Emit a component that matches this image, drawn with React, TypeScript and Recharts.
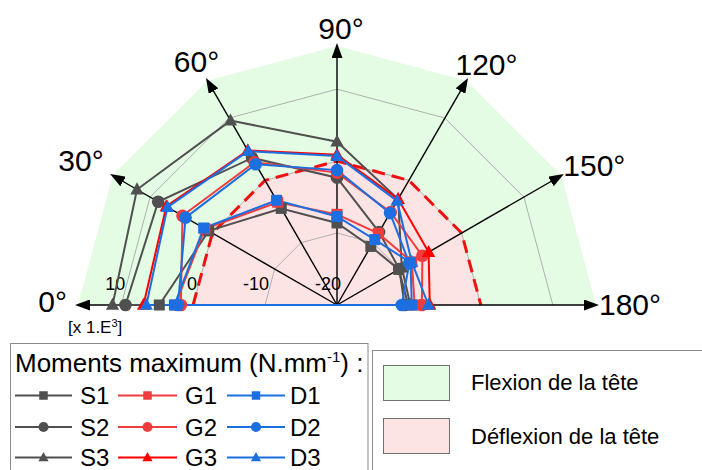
import React from "react";
import { PolarAngleAxis, PolarRadiusAxis, Radar, RadarChart } from "recharts";

/* ---- values (x 1.E3 N.mm-1) ---- */
const ANGLES = [0, 30, 60, 90, 120, 150, 180];

const S1 = [4.7, 0.6, -4.5, -8.6, -10.6, -10.1, -10.1];
const S2 = [9.4, 8.7, 3.6, -2.3, -8.3, -10.0, -10.6];
const S3 = [11.2, 12.1, 9.6, 2.7, -3.0, -9.6, -9.8];
const G1 = [2.5, 1.2, -3.5, -7.4, -8.5, -8.0, -9.2];
const G2 = [1.7, 4.8, 2.9, -1.6, -5.1, -6.3, -8.2];
const G3 = [6.9, 7.4, 4.8, 0.9, -3.0, -5.3, -7.1];
const D1 = [2.6, 1.4, -3.2, -7.7, -9.5, -8.2, -9.6];
const D2 = [2.1, 4.3, 2.6, -1.25, -5.25, -8.4, -11.0];
const D3 = [6.5, 7.2, 4.7, 0.7, -3.3, -8.0, -7.3];

// zone limits and grid rings
const FLEXION_ZONE = [16, 16, 16, 16, 16, 16, 16];
const DEFLEXION_ZONE = [0, 0, 0, 0, 0, 0, 0];
const RING_M20 = [-20, -20, -20, -20, -20, -20, -20];
const RING_M10 = [-10, -10, -10, -10, -10, -10, -10];
const RING_0 = [0, 0, 0, 0, 0, 0, 0];
const RING_10 = [10, 10, 10, 10, 10, 10, 10];

const RADIUS_DOMAIN = [-20, 16];

/* ---- palette ---- */
const GREY = "#505050";
const RED = "#f03c3c";
const RED3 = "#ff0000";
const BLUE = "#1c6fe0";
const GRID = "#a8a8a8";
const FONT = "Arial, 'Liberation Sans', sans-serif";

const SERIES = [
  { key: "S1", values: S1, color: GREY, marker: "square" },
  { key: "S2", values: S2, color: GREY, marker: "circle" },
  { key: "S3", values: S3, color: GREY, marker: "triangle" },
  { key: "G1", values: G1, color: RED, marker: "square" },
  { key: "G2", values: G2, color: RED, marker: "circle" },
  { key: "G3", values: G3, color: RED3, marker: "triangle" },
  { key: "D1", values: D1, color: BLUE, marker: "square" },
  { key: "D2", values: D2, color: BLUE, marker: "circle" },
  { key: "D3", values: D3, color: BLUE, marker: "triangle" },
];

const data = ANGLES.map((angle, i) => {
  const row: Record<string, number> = {
    angle,
    flex: FLEXION_ZONE[i],
    deflex: DEFLEXION_ZONE[i],
    rm20: RING_M20[i],
    rm10: RING_M10[i],
    r0: RING_0[i],
    r10: RING_10[i],
  };
  SERIES.forEach((s) => (row[s.key] = s.values[i]));
  return row;
});

// where each angle label sits relative to its arrow tip
const LABEL_NUDGE = [
  { dx: -11, dy: 7, anchor: "end" },
  { dx: -9, dy: -5, anchor: "end" },
  { dx: -11, dy: -9, anchor: "middle" },
  { dx: 4, dy: -7, anchor: "middle" },
  { dx: 20, dy: -6, anchor: "middle" },
  { dx: 2, dy: 0, anchor: "start" },
  { dx: 3, dy: 10, anchor: "start" },
];

function Glyph({ kind, x, y, color, size }: { kind: string; x: number; y: number; color: string; size: number }) {
  if (kind === "square") {
    return <rect x={x - size / 2} y={y - size / 2} width={size} height={size} fill={color} />;
  }
  if (kind === "circle") {
    return <circle cx={x} cy={y} r={size / 2 + 0.8} fill={color} />;
  }
  const h = size * 1.05;
  return (
    <polygon
      points={`${x},${y - h * 0.62} ${x - size * 0.6},${y + h * 0.42} ${x + size * 0.6},${y + h * 0.42}`}
      fill={color}
    />
  );
}

const markerDot = (kind: string, color: string) => (p: any) =>
  <Glyph key={`${kind}-${color}-${p.index}`} kind={kind} color={color} x={p.cx} y={p.cy} size={11} />;

const openPath = (points: any[]) => points.map((p, i) => `${i ? "L" : "M"}${p.x},${p.y}`).join(" ");

/** grid ring (open polyline) + its value label on the 0° axis */
const RingShape = (props: any) => {
  const { points, showLine } = props;
  const first = points[0];
  return (
    <g>
      {showLine && <path d={openPath(points)} fill="none" stroke={GRID} strokeWidth={0.9} />}
      <text x={first.x + 4} y={first.y - 15} textAnchor="end" fontSize={18} fontFamily={FONT} fill="#000">
        {first.value}
      </text>
    </g>
  );
};

const DashedLimit = (props: any) => (
  <path d={openPath(props.points)} fill="none" stroke="#ee1111" strokeWidth={3} strokeDasharray="13 7" />
);

/** black radial arrows + angle labels, drawn out to the flexion limit */
const AxesShape = (props: any) => {
  const { points } = props;
  return (
    <g>
      <defs>
        <marker id="arrowHead" markerWidth={15} markerHeight={11} refX={12} refY={5.5} orient="auto" markerUnits="userSpaceOnUse">
          <path d="M0,0 L15,5.5 L0,11 Z" fill="#000" />
        </marker>
      </defs>
      {points.map((p: any, i: number) => (
        <g key={i}>
          <line x1={p.cx} y1={p.cy} x2={p.x} y2={p.y} stroke="#000" strokeWidth={1.4} markerEnd="url(#arrowHead)" />
          <text
            x={p.x + LABEL_NUDGE[i].dx}
            y={p.y + LABEL_NUDGE[i].dy}
            textAnchor={LABEL_NUDGE[i].anchor as any}
            fontSize={30}
            fontFamily={FONT}
            fill="#000"
          >
            {`${p.payload.angle}°`}
          </text>
        </g>
      ))}
    </g>
  );
};

function Legends() {
  const rows = [395.5, 427, 457.5];
  const cols = [
    { x0: 15, x1: 72, text: 80, group: "S" },
    { x0: 118, x1: 177, text: 185, group: "G" },
    { x0: 227, x1: 285, text: 290, group: "D" },
  ];
  return (
    <svg width={702} height={470} style={{ position: "absolute", left: 0, top: 0, pointerEvents: "none" }}>
      <rect x={10.5} y={343.5} width={357.5} height={140} fill="#fff" stroke="#8a8a8a" />
      <text x={15} y={371.5} fontSize={26} fontFamily={FONT} fill="#000">
        Moments maximum (N.mm
        <tspan fontSize={15} dy={-10}>-1</tspan>
        <tspan dy={10}>) :</tspan>
      </text>
      {cols.map((c) =>
        rows.map((y, r) => {
          const s = SERIES.find((d) => d.key === `${c.group}${r + 1}`)!;
          return (
            <g key={s.key}>
              <line x1={c.x0} x2={c.x1} y1={y} y2={y} stroke={s.color} strokeWidth={2} />
              <Glyph kind={s.marker} x={(c.x0 + c.x1) / 2} y={y} color={s.color} size={8.5} />
              <text x={c.text} y={y + 8.5} fontSize={24} fontFamily={FONT} fill="#000">
                {s.key}
              </text>
            </g>
          );
        })
      )}
      <rect x={372.5} y={350.5} width={340} height={130} fill="#fff" stroke="#8a8a8a" />
      <rect x={383.5} y={365.5} width={66} height={35} fill="#e4fbe4" stroke="#707070" />
      <rect x={383.5} y={418.5} width={66} height={35} fill="#fde4e4" stroke="#707070" />
      <text x={471} y={390} fontSize={22} fontFamily={FONT} fill="#000">
        Flexion de la tête
      </text>
      <text x={471} y={443.5} fontSize={22} fontFamily={FONT} fill="#000">
        Déflexion de la tête
      </text>
    </svg>
  );
}

export default function App() {
  return (
    <div
      style={{
        position: "absolute",
        left: 0,
        top: 0,
        width: 702,
        height: 470,
        overflow: "hidden",
        background: "#fff",
        fontFamily: FONT,
      }}
    >
      <RadarChart
        width={702}
        height={470}
        data={data}
        cx={337}
        cy={305}
        startAngle={180}
        endAngle={0}
        innerRadius={0}
        outerRadius={259}
        margin={{ top: 0, right: 0, bottom: 0, left: 0 }}
      >
        <PolarAngleAxis dataKey="angle" type="number" domain={[0, 180]} tick={false} tickLine={false} axisLine={false} />
        <PolarRadiusAxis type="number" domain={RADIUS_DOMAIN} tick={false} axisLine={false} />

        <Radar dataKey="flex" fill="#e4fbe4" fillOpacity={1} stroke="none" dot={false} isAnimationActive={false} />
        <Radar dataKey="deflex" fill="#fde4e4" fillOpacity={1} stroke="none" dot={false} isAnimationActive={false} />
        <Radar dataKey="rm10" shape={(p: any) => <RingShape {...p} showLine />} dot={false} isAnimationActive={false} />
        <Radar dataKey="r0" shape={(p: any) => <RingShape {...p} showLine />} dot={false} isAnimationActive={false} />
        <Radar dataKey="r10" shape={(p: any) => <RingShape {...p} showLine />} dot={false} isAnimationActive={false} />
        <Radar dataKey="rm20" shape={(p: any) => <RingShape {...p} showLine={false} />} dot={false} isAnimationActive={false} />
        <Radar dataKey="deflex" name="limit" shape={DashedLimit} dot={false} isAnimationActive={false} />
        <Radar dataKey="flex" name="axes" shape={AxesShape} dot={false} isAnimationActive={false} />

        {SERIES.map((s) => (
          <Radar
            key={s.key}
            dataKey={s.key}
            stroke={s.color}
            strokeWidth={2}
            fill="none"
            fillOpacity={0}
            dot={markerDot(s.marker, s.color)}
            isAnimationActive={false}
          />
        ))}
      </RadarChart>
      <div style={{ position: "absolute", left: 68, top: 313, fontSize: 17, fontFamily: FONT, lineHeight: "20px" }}>
        [x 1.E<sup style={{ fontSize: 11, verticalAlign: "6px" }}>3</sup>]
      </div>
      <Legends />
    </div>
  );
}
